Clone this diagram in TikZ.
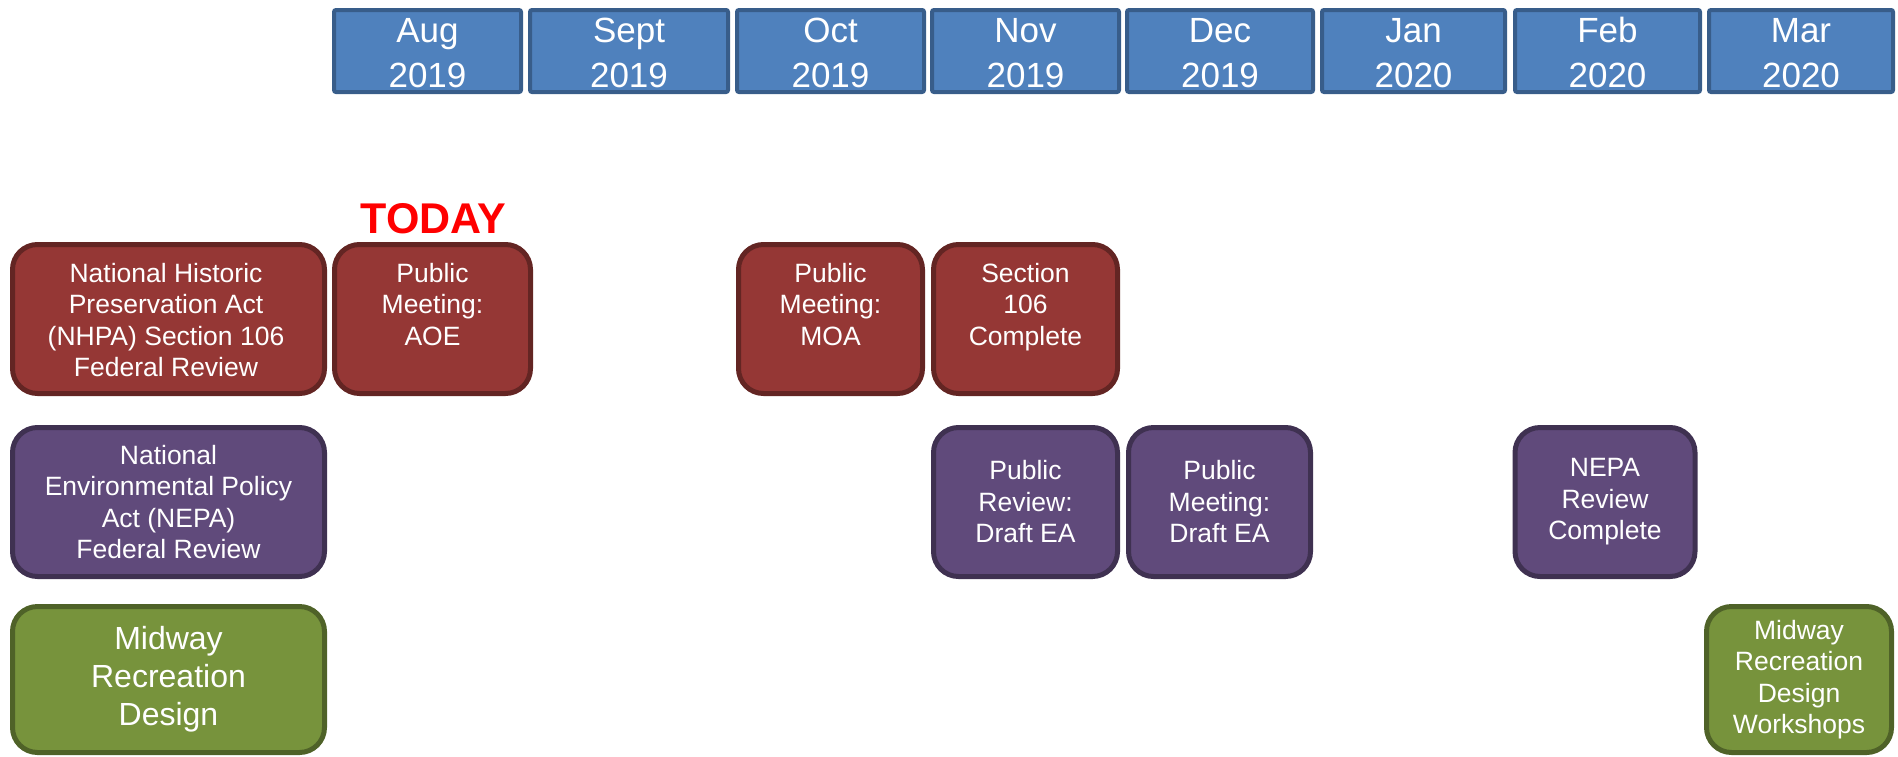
\documentclass[tikz,border=0pt]{standalone}
\usepackage{fontspec}
\setmainfont{Liberation Sans}
\definecolor{hdrF}{HTML}{4F81BD}
\definecolor{hdrB}{HTML}{385D8A}
\definecolor{redF}{HTML}{953735}
\definecolor{redB}{HTML}{632523}
\definecolor{purF}{HTML}{604A7B}
\definecolor{purB}{HTML}{3F3151}
\definecolor{grnF}{HTML}{77933C}
\definecolor{grnB}{HTML}{4F6228}
\definecolor{todayC}{HTML}{FF0000}
\tikzset{
  hdr/.style={draw=hdrB, fill=hdrF, line width=4pt, rounded corners=2pt, inner sep=0pt,
    minimum height=82pt},
  hdrtxt/.style={text=white, font=\fontsize{35}{45}\selectfont, align=center, inner sep=0pt, anchor=base},
  evt/.style={line width=5pt, rounded corners=25pt, inner sep=0pt, text=white, align=center,
    font=\fontsize{26.5}{31.5}\selectfont},
  nhpabox/.style={evt, draw=redB, fill=redF, minimum height=149pt},
  nepabox/.style={evt, draw=purB, fill=purF, minimum height=149pt},
  midbox/.style={evt, draw=grnB, fill=grnF, minimum height=146pt},
  evttxt/.style={text=white, align=center, inner sep=0pt, anchor=base, font=\fontsize{26.5}{31.5}\selectfont},
}
\begin{document}
\begin{tikzpicture}[x=1pt, y=-1pt]
\useasboundingbox (0,0) rectangle (1898,756);
% header months
\node[hdr, minimum width=187pt] (aug)  at (427.5,51) {};
\node[hdr, minimum width=198pt] (sep)  at (629,51) {};
\node[hdr, minimum width=187pt] (oct)  at (830.5,51) {};
\node[hdr, minimum width=187pt] (nov)  at (1025.5,51) {};
\node[hdr, minimum width=186pt] (dec)  at (1220,51) {};
\node[hdr, minimum width=183pt] (jan)  at (1413.5,51) {};
\node[hdr, minimum width=185pt] (feb)  at (1607.5,51) {};
\node[hdr, minimum width=184pt] (mar)  at (1801,51) {};
\node[hdrtxt] (augT) at (427.5,87) {Aug\\2019};
\node[hdrtxt] (sepT) at (629,87) {Sept\\2019};
\node[hdrtxt] (octT) at (830.5,87) {Oct\\2019};
\node[hdrtxt] (novT) at (1025.5,87) {Nov\\2019};
\node[hdrtxt] (decT) at (1220,87) {Dec\\2019};
\node[hdrtxt] (janT) at (1413.5,87) {Jan\\2020};
\node[hdrtxt] (febT) at (1607.5,87) {Feb\\2020};
\node[hdrtxt] (marT) at (1801,87) {Mar\\2020};
% today
\node[text=todayC, font=\bfseries\fontsize{43}{43}\selectfont, inner sep=0pt, anchor=base] (today) at (433.5,233) {TODAY};
% NHPA row
\node[nhpabox, minimum width=312pt] (nhpa) at (168.5,319) {};
\node[nhpabox, minimum width=196pt] (aoe)  at (432.5,319) {};
\node[nhpabox, minimum width=184pt] (moa)  at (830.5,319) {};
\node[nhpabox, minimum width=184pt] (s106) at (1025.5,319) {};
\node[evttxt] (nhpaT) at (166,376.5) {National Historic\\Preservation Act\\(NHPA) Section 106\\Federal Review};
\node[evttxt] (aoeT)  at (432.5,345) {Public\\Meeting:\\AOE};
\node[evttxt] (moaT)  at (830.5,345) {Public\\Meeting:\\MOA};
\node[evttxt] (s106T) at (1025.5,345) {Section\\106\\Complete};
% NEPA row
\node[nepabox, minimum width=312pt] (nepa) at (168.5,502) {National\\Environmental Policy\\Act (NEPA)\\Federal Review};
\node[nepabox, minimum width=184pt] (prev) at (1025.5,502) {Public\\Review:\\Draft EA};
\node[nepabox, minimum width=182pt] (pmtg) at (1219.5,502) {Public\\Meeting:\\Draft EA};
\node[nepabox, minimum width=180pt] (nrev) at (1605,502) {NEPA\\Review\\Complete};
% Midway row
\node[midbox, minimum width=312pt, font=\fontsize{32}{38}\selectfont] (mid) at (168.5,679.5) {Midway\\Recreation\\Design};
\node[midbox, minimum width=185pt] (work) at (1799,679.5) {Midway\\Recreation\\Design\\Workshops};
\end{tikzpicture}
\end{document}
